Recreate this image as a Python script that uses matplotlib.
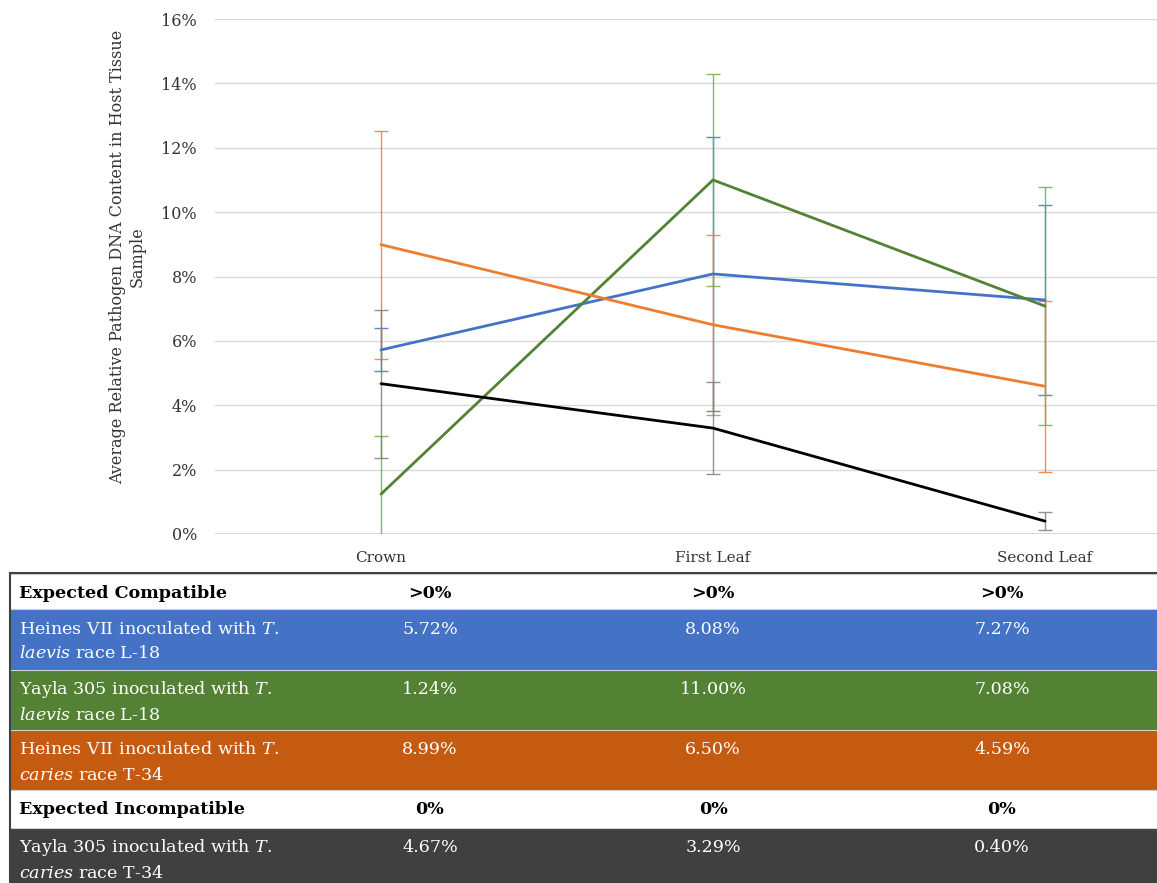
import matplotlib
matplotlib.use("Agg")
import matplotlib.pyplot as plt
from matplotlib.patches import Rectangle
import numpy as np

# ---- data -------------------------------------------------------------
categories = ["Crown", "First Leaf", "Second Leaf"]

heines_laevis = [5.72, 8.08, 7.27]
yayla_laevis = [1.24, 11.00, 7.08]
heines_caries = [8.99, 6.50, 4.59]
yayla_caries = [4.67, 3.29, 0.40]

heines_laevis_err = [0.67, 4.26, 2.95]
yayla_laevis_err = [1.81, 3.29, 3.69]
heines_caries_err = [3.54, 2.80, 2.65]
yayla_caries_err = [2.30, 1.43, 0.29]

y_ticks = [0, 2, 4, 6, 8, 10, 12, 14, 16]

compatible_expect = [">0%", ">0%", ">0%"]
incompatible_expect = ["0%", "0%", "0%"]

# ---- style ------------------------------------------------------------
W, H, DPI = 1157, 883, 100
FONT = "DejaVu Serif"
plt.rcParams["font.family"] = FONT
plt.rcParams["mathtext.fontset"] = "custom"
plt.rcParams["mathtext.rm"] = FONT
plt.rcParams["mathtext.it"] = FONT + ":italic"

BLUE, GREEN, ORANGE, BLACK = "#4472C4", "#548235", "#ED7D31", "#000000"
ERR_BLUE, ERR_GREEN, ERR_ORANGE, ERR_BLACK = "#4472C4", "#70AD47", "#ED7D31", "#7F7F7F"
ROW_BLUE, ROW_GREEN, ROW_ORANGE, ROW_DARK = "#4472C4", "#548235", "#C55A11", "#404040"

fig = plt.figure(figsize=(W / DPI, H / DPI), dpi=DPI)


def px(x0, y0, x1, y1):
    """Figure-fraction rectangle from pixel edges (top-left origin)."""
    return [x0 / W, 1 - y1 / H, (x1 - x0) / W, (y1 - y0) / H]


# ---- line chart -------------------------------------------------------
ax = fig.add_axes(px(215, 19, 1211, 534))
x = np.arange(len(categories))

series = [
    (heines_laevis, heines_laevis_err, BLUE, ERR_BLUE),
    (yayla_laevis, yayla_laevis_err, GREEN, ERR_GREEN),
    (heines_caries, heines_caries_err, ORANGE, ERR_ORANGE),
    (yayla_caries, yayla_caries_err, BLACK, ERR_BLACK),
]
for i, (vals, errs, lc, ec) in enumerate(series):
    ax.errorbar(x, vals, yerr=errs, fmt="none", ecolor=ec, elinewidth=1.0,
                capsize=5, capthick=1.0, alpha=0.85, zorder=3 + i)
for i, (vals, errs, lc, ec) in enumerate(series):
    ax.plot(x, vals, color=lc, lw=2.0, solid_capstyle="round", zorder=10 + i)

ax.set_xlim(-0.5, len(categories) - 0.5)
ax.set_ylim(0, 16)
ax.set_yticks(y_ticks)
ax.set_yticklabels([f"{t}%" for t in y_ticks])
ax.set_xticks(x)
ax.set_xticklabels(categories)
ax.tick_params(axis="both", length=0, colors="#333333")
ax.tick_params(axis="y", pad=13, labelsize=11.5)
ax.tick_params(axis="x", pad=12, labelsize=11)
ax.grid(axis="y", color="#D9D9D9", lw=1.0)
ax.set_axisbelow(True)
for s in ax.spines.values():
    s.set_visible(False)
ax.axhline(0, color="#D0D0D0", lw=1.2, zorder=1)

fig.text(127 / W, 1 - 257 / H,
         "Average Relative Pathogen DNA Content in Host Tissue\nSample",
         rotation=90, ha="center", va="center", fontsize=11.5, color="#333333",
         linespacing=1.2)

# ---- summary table ----------------------------------------------------
tab = fig.add_axes([0, 0, 1, 1], zorder=-1)
tab.set_xlim(0, W)
tab.set_ylim(H, 0)
tab.axis("off")

table_left, table_right = 10, 1300
col_centers = [430, 713, 1002]
rows = [
    ("Expected Compatible", None, compatible_expect, "white", "black", True, 35),
    ("Heines VII inoculated with $\\mathit{T.}$", "$\\mathit{laevis}$ race L-18",
     [f"{v:.2f}%" for v in heines_laevis], ROW_BLUE, "white", False, 61),
    ("Yayla 305 inoculated with $\\mathit{T.}$", "$\\mathit{laevis}$ race L-18",
     [f"{v:.2f}%" for v in yayla_laevis], ROW_GREEN, "white", False, 60),
    ("Heines VII inoculated with $\\mathit{T.}$", "$\\mathit{caries}$ race T-34",
     [f"{v:.2f}%" for v in heines_caries], ROW_ORANGE, "white", False, 60),
    ("Expected Incompatible", None, incompatible_expect, "white", "black", True, 38),
    ("Yayla 305 inoculated with $\\mathit{T.}$", "$\\mathit{caries}$ race T-34",
     [f"{v:.2f}%" for v in yayla_caries], ROW_DARK, "white", False, 60),
]

TFS = 12.6
y = 574
for line1, line2, vals, bg, fg, bold, h in rows:
    tab.add_patch(Rectangle((table_left, y), table_right - table_left, h,
                            facecolor=bg, edgecolor="none"))
    tab.plot([table_left, table_right], [y, y], color="#D0D0D0", lw=0.8)
    weight = "bold" if bold else "normal"
    ty = y + 20
    tab.text(19, ty, line1, ha="left", va="center", fontsize=TFS,
             color=fg, fontweight=weight)
    if line2:
        tab.text(19, ty + 25, line2, ha="left", va="center", fontsize=TFS,
                 color=fg, fontweight=weight)
    for cx, v in zip(col_centers, vals):
        tab.text(cx, ty, v, ha="center", va="center", fontsize=TFS,
                 color=fg, fontweight=weight)
    y += h

# table frame
tab.plot([table_left, table_right], [573, 573], color="#404040", lw=1.5)
tab.plot([table_left, table_left], [573, H + 5], color="#404040", lw=1.5)

fig.savefig("out.png", dpi=DPI, facecolor="white")
